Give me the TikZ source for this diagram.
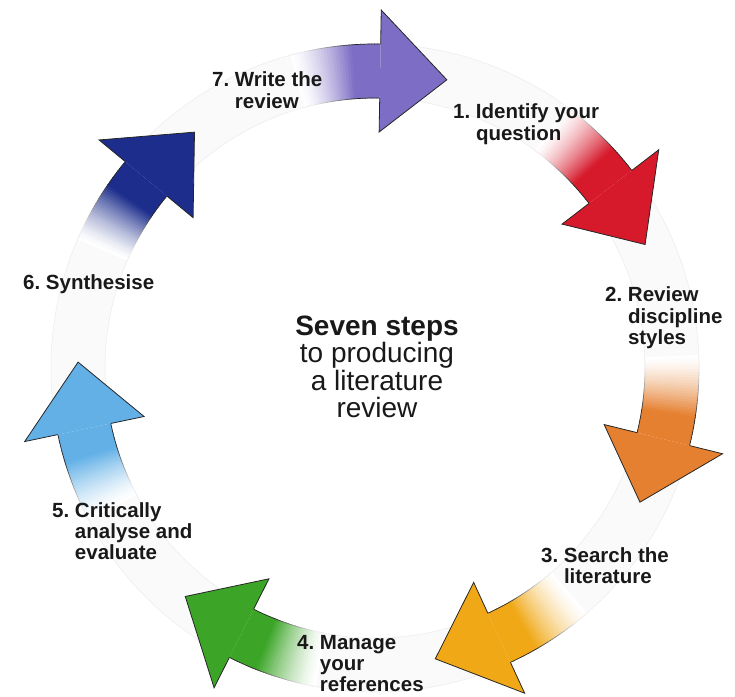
\documentclass[tikz,border=0pt]{standalone}
\usepackage{fontspec}
\setmainfont{Liberation Sans}
\definecolor{stepviolet}{RGB}{125,109,196}
\definecolor{stepred}{RGB}{214,26,44}
\definecolor{steporange}{RGB}{229,128,48}
\definecolor{stepamber}{RGB}{240,168,22}
\definecolor{stepgreen}{RGB}{60,165,40}
\definecolor{stepsky}{RGB}{98,176,230}
\definecolor{stepnavy}{RGB}{28,45,140}
\newcommand\stepnote[2]{\begin{tabular}[t]{@{}l@{\ }l@{}}#1&#2\end{tabular}}

\begin{document}
\begin{tikzpicture}[x=1pt,y=1pt,
    note/.style={anchor=base west,inner sep=0pt,text=black!90,
      font=\fontsize{20.5}{21}\selectfont\bfseries},
    head/.style={draw=black!85,line width=0.8pt,line join=miter}]
  \useasboundingbox (0,0) rectangle (735,696);
  \begin{scope}[shift={(375,328)}]
    % the ring
    \fill[black!2,even odd rule] (0,0) circle (324) (0,0) circle (270);
    \draw[black!7,line width=0.6pt] (0,0) circle (324) (0,0) circle (270);
    % shafts fading in, then the heads
    \foreach \b/\c in {89/stepviolet,37.57/stepred,-13.86/steporange,
        -65.29/stepamber,-116.71/stepgreen,-168.14/stepsky,-219.57/stepnavy}{
      \foreach \i in {0,...,31}{
        \pgfmathtruncatemacro\p{min(100,100*((\i+0.5)/22)^1.4)}
        \pgfmathtruncatemacro\q{max(7,0.85*\p)}
        \pgfmathsetmacro\s{\b+16-0.5*\i+0.15}
        \pgfmathsetmacro\e{\b+15.5-0.5*\i}
        \fill[\c!\p!white] (\s:324) arc[start angle=\s,end angle=\e,radius=324]
          -- (\e:270) arc[start angle=\e,end angle=\s,radius=270] -- cycle;
        \draw[black!\q,line width=0.7pt] (\s:324) arc[start angle=\s,end angle=\e,radius=324]
          (\e:270) arc[start angle=\e,end angle=\s,radius=270];
      }
      \filldraw[head,fill=\c] (\b:324) -- (\b:358) -- (\b-13:297) -- (\b:236) -- (\b:270);
    }
  \end{scope}
  % step labels
  \node[note] (note7) at (212,609) {\stepnote{7.}{Write the\\&review}};
  \node[note] (note1) at (453,577) {\stepnote{1.}{Identify your\\&question}};
  \node[note] (note2) at (605,394) {\stepnote{2.}{Review\\&discipline\\&styles}};
  \node[note] (note3) at (541,134) {\stepnote{3.}{Search the\\&literature}};
  \node[note] (note4) at (297,47) {\stepnote{4.}{Manage\\&your\\&references}};
  \node[note] (note5) at (52,179) {\stepnote{5.}{Critically\\&analyse and\\&evaluate}};
  \node[note] (note6) at (23,406) {\stepnote{6.}{Synthesise}};
  \node[align=center,inner sep=0pt,text=black!90,font=\fontsize{28}{27.5}\selectfont]
    (title) at (377,329) {\textbf{Seven steps}\\to producing\\a literature\\review};
\end{tikzpicture}
\end{document}
